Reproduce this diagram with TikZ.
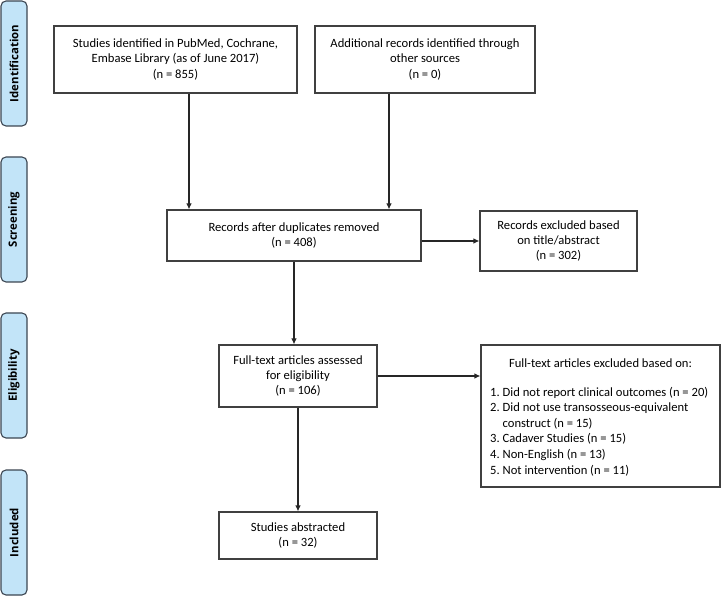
\documentclass[tikz,border=0pt]{standalone}
\usepackage{fontspec}
\setmainfont{Carlito}
\newfontfamily\labelfont{Open Sans}
\usetikzlibrary{arrows.meta}
\definecolor{sidefill}{RGB}{194,228,248}
\definecolor{sidedraw}{RGB}{60,70,82}
\definecolor{boxdraw}{RGB}{64,64,64}
\begin{document}
\begin{tikzpicture}[x=1pt,y=-1pt,
  box/.style={draw=boxdraw, line width=1.1pt, align=center, inner sep=0pt,
    font=\fontsize{12.6}{15.2}\selectfont},
  plain/.style={inner sep=0pt, font=\fontsize{12.6}{15.6}\selectfont},
  side/.style={draw=sidedraw, fill=sidefill, rounded corners=5pt, line width=1.1pt,
    minimum width=26pt, minimum height=125pt, inner sep=0pt},
  sidetext/.style={rotate=90, inner sep=0pt, font=\labelfont\bfseries\fontsize{11.4}{12}\selectfont},
  arr/.style={draw=black!85, line width=1.1pt, -{Latex[length=6pt,width=5.5pt]}}
]
\useasboundingbox[fill=white] (0,0) rectangle (721,596);

% side labels
\node[side] (s1) at (14,63.5) {};
\node[sidetext] (s1t) at (s1.center) {Identification};
\node[side] (s2) at (14,219.5) {};
\node[sidetext] (s2t) at (s2.center) {Screening};
\node[side] (s3) at (14,375.5) {};
\node[sidetext] (s3t) at (s3.center) {Eligibility};
\node[side] (s4) at (14,532.5) {};
\node[sidetext] (s4t) at (s4.center) {Included};

% boxes
\node[box, minimum width=243pt, minimum height=67pt] (id1) at (175.5,59.5)
  {Studies identified in PubMed, Cochrane,\\Embase Library (as of June 2017)\\(n = 855)};
\node[box, minimum width=220pt, minimum height=67pt] (id2) at (425,59.5)
  {Additional records identified through\\other sources\\(n = 0)};
\node[box, minimum width=254pt, minimum height=51pt] (dup) at (294,235.5)
  {Records after duplicates removed\\(n = 408)};
\node[box, minimum width=157pt, minimum height=60pt] (exc1) at (558.5,241)
  {Records excluded based\\on title/abstract\\(n = 302)};
\node[box, minimum width=158pt, minimum height=62pt] (full) at (298,376)
  {Full-text articles assessed\\for eligibility\\(n = 106)};
\node[box, minimum width=239pt, minimum height=142pt] (exc2) at (600.5,416) {};
\node[plain] (exc2t) at (600.5,363) {Full-text articles excluded based on:};
\node[plain, anchor=north west] (exc2l) at (490,385)
  {\begin{tabular}{@{}l@{\hspace{0.23em}}l@{}}
   1. & Did not report clinical outcomes (n = 20)\\
   2. & Did not use transosseous-equivalent\\
      & construct (n = 15)\\
   3. & Cadaver Studies (n = 15)\\
   4. & Non-English (n = 13)\\
   5. & Not intervention (n = 11)
   \end{tabular}};
\node[box, minimum width=158pt, minimum height=47pt] (incl) at (298,535.5)
  {Studies abstracted\\(n = 32)};

% connectors
\coordinate (a1) at ([xshift=-105pt]dup.north);
\coordinate (a2) at ([xshift=95pt]dup.north);
\draw[arr] (a1 |- id1.south) -- (a1);
\draw[arr] (a2 |- id2.south) -- (a2);
\draw[arr] (dup.east |- exc1.west) -- (exc1.west);
\draw[arr] (dup.south) -- (dup.south |- full.north);
\draw[arr] (full.east) -- (full.east -| exc2.west);
\draw[arr] (full.south) -- (incl.north);
\end{tikzpicture}
\end{document}
